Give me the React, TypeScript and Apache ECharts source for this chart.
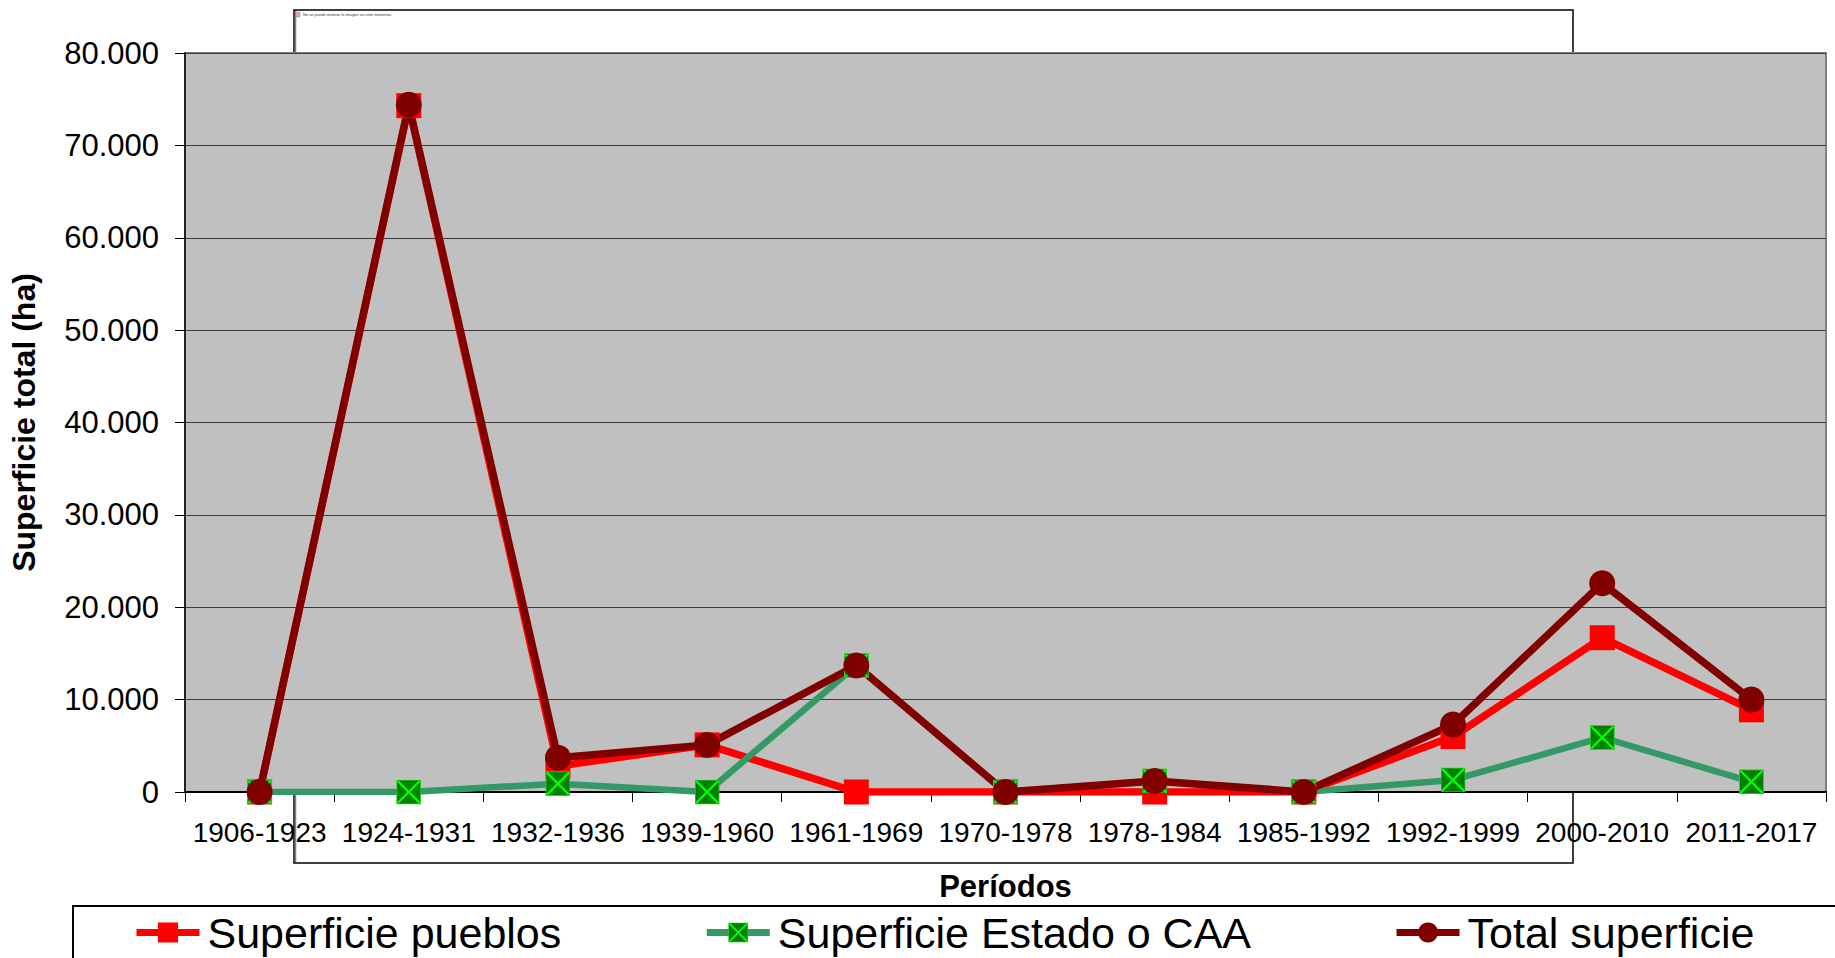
import React, { useEffect, useRef } from "react";
import * as echarts from "echarts";

const categories = [
  "1906-1923", "1924-1931", "1932-1936", "1939-1960", "1961-1969", "1970-1978",
  "1978-1984", "1985-1992", "1992-1999", "2000-2010", "2011-2017",
];
const superficiePueblos = [0, 74300, 2800, 5100, 0, 0, 0, 0, 6000, 16700, 8900];
const superficieEstado = [0, 0, 900, 0, 13700, 0, 1200, 0, 1300, 5900, 1100];
const totalSuperficie = [0, 74400, 3700, 5100, 13700, 0, 1200, 0, 7300, 22600, 10000];

const seriesNames = ["Superficie pueblos", "Superficie Estado o CAA", "Total superficie"];
const yAxisTitle = "Superficie total (ha)";
const xAxisTitle = "Períodos";
const placeholderText = "No se puede mostrar la imagen en este momento.";

const greenMarkerSvg =
  "<svg xmlns='http://www.w3.org/2000/svg' width='26' height='26' viewBox='0 0 26 26'>" +
  "<rect x='0.5' y='0.5' width='25' height='25' fill='#008000' stroke='#22dd22' stroke-width='1'/>" +
  "<path d='M1.5 1.5L24.5 24.5M24.5 1.5L1.5 24.5' stroke='#00FF00' stroke-width='2.4'/></svg>";
const greenSymbol = "image://data:image/svg+xml;charset=utf-8," + encodeURIComponent(greenMarkerSvg);

const fmt = (v: number) => String(v).replace(/\B(?=(\d{3})+(?!\d))/g, ".");

const FONT = "'Liberation Sans', Arial, sans-serif";

export default function App() {
  const ref = useRef<HTMLDivElement>(null);
  useEffect(() => {
    if (!ref.current) return;
    const chart = echarts.init(ref.current, null, { renderer: "svg" });
    chart.setOption({
      animation: false,
      backgroundColor: "#ffffff",
      textStyle: { fontFamily: FONT },
      graphic: [
        {
          type: "rect",
          z: -10,
          shape: { x: 294, y: 10, width: 1279, height: 853 },
          style: { fill: "#ffffff", stroke: "#000000", lineWidth: 1.5 },
        },
        {
          type: "line",
          z: -9,
          shape: { x1: 295.5, y1: 11, x2: 295.5, y2: 862 },
          style: { stroke: "#808080", lineWidth: 1.5 },
        },
        {
          type: "rect",
          z: -9,
          shape: { x: 296, y: 12, width: 4, height: 5 },
          style: { fill: "#f4a0a0", stroke: "#999", lineWidth: 0.5 },
        },
        {
          type: "text",
          z: -9,
          x: 303,
          y: 12.5,
          style: { text: placeholderText, fontSize: 4, fill: "#333", fontFamily: FONT },
        },
        {
          type: "rect",
          z: -5,
          shape: { x: 73, y: 906, width: 1800, height: 80 },
          style: { fill: "#ffffff", stroke: "#000000", lineWidth: 2 },
        },
      ],
      grid: {
        left: 185,
        top: 53,
        width: 1641,
        height: 739,
        show: true,
        backgroundColor: "#C0C0C0",
        borderColor: "#808080",
        borderWidth: 2,
      },
      legend: {
        left: 133,
        top: 911,
        padding: 0,
        itemWidth: 63,
        itemHeight: 25,
        itemGap: 142,
        lineStyle: { width: 7 },
        textStyle: { fontSize: 43, lineHeight: 42, color: "#000", fontFamily: FONT, padding: [0, 0, 0, 3] },
        data: seriesNames,
      },
      xAxis: {
        type: "category",
        data: categories,
        boundaryGap: true,
        name: xAxisTitle,
        nameLocation: "middle",
        nameGap: 79,
        nameTextStyle: { fontSize: 31, fontWeight: "bold", color: "#000", fontFamily: FONT },
        axisLine: { show: true, lineStyle: { color: "#000", width: 2 } },
        axisTick: { show: true, length: 10, inside: false, lineStyle: { color: "#000", width: 1 } },
        axisLabel: { interval: 0, fontSize: 28, color: "#000", margin: 26, fontFamily: FONT },
        splitLine: { show: false },
      },
      yAxis: {
        type: "value",
        min: 0,
        max: 80000,
        interval: 10000,
        name: yAxisTitle,
        nameLocation: "middle",
        nameGap: 145,
        nameTextStyle: { fontSize: 32, fontWeight: "bold", color: "#000", fontFamily: FONT },
        axisLine: { show: true, lineStyle: { color: "#222", width: 2 } },
        axisTick: { show: true, length: 10, inside: false, lineStyle: { color: "#000", width: 1 } },
        axisLabel: { fontSize: 31, color: "#000", margin: 26, fontFamily: FONT, formatter: (v: number) => fmt(v) },
        splitLine: { show: true, lineStyle: { color: "#3a3a3a", width: 1.2 } },
      },
      series: [
        {
          name: seriesNames[0],
          type: "line",
          data: superficiePueblos,
          symbol: "rect",
          symbolSize: 25,
          lineStyle: { color: "#FF0000", width: 7.5 },
          itemStyle: { color: "#FF0000" },
        },
        {
          name: seriesNames[1],
          type: "line",
          data: superficieEstado,
          symbol: greenSymbol,
          symbolSize: 25,
          lineStyle: { color: "#339966", width: 6.5 },
          itemStyle: { color: "#339966" },
        },
        {
          name: seriesNames[2],
          type: "line",
          data: totalSuperficie,
          symbol: "circle",
          symbolSize: 26,
          lineStyle: { color: "#800000", width: 7.5 },
          itemStyle: { color: "#800000" },
        },
      ],
    });
    return () => chart.dispose();
  }, []);
  return (
    <div
      ref={ref}
      style={{ position: "fixed", left: 0, top: 0, width: 1835, height: 958 }}
    />
  );
}
